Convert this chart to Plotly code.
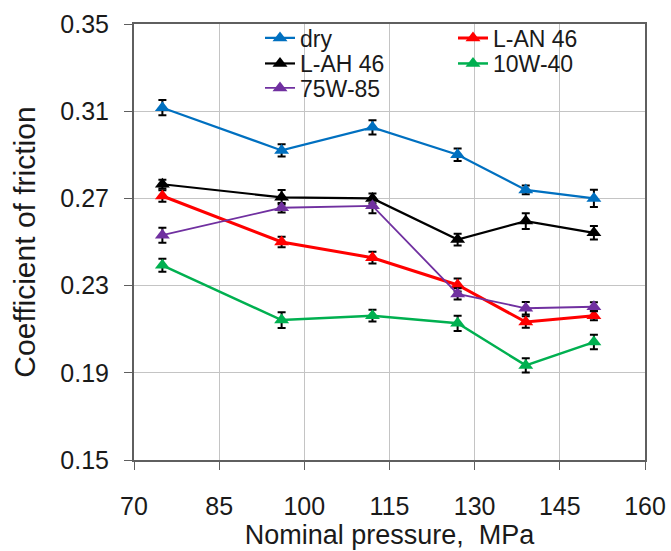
import plotly.graph_objects as go

# ---- data ----
pressure = [75, 96, 112, 127, 139, 151]

dry = [0.3116, 0.2920, 0.3026, 0.2900, 0.2739, 0.2700]
dry_err = [0.0035, 0.0028, 0.0033, 0.0029, 0.0020, 0.0040]

l_an46 = [0.2711, 0.2500, 0.2428, 0.2303, 0.2133, 0.2162]
l_an46_err = [0.0026, 0.0024, 0.0027, 0.0030, 0.0026, 0.0021]

l_ah46 = [0.2765, 0.2705, 0.2700, 0.2511, 0.2596, 0.2542]
l_ah46_err = [0.0020, 0.0033, 0.0022, 0.0027, 0.0036, 0.0031]

w10_40 = [0.2393, 0.2142, 0.2162, 0.2127, 0.1934, 0.2041]
w10_40_err = [0.0030, 0.0036, 0.0027, 0.0035, 0.0033, 0.0033]

w75_85 = [0.2531, 0.2657, 0.2666, 0.2262, 0.2196, 0.2203]
w75_85_err = [0.0034, 0.0022, 0.0034, 0.0026, 0.0029, 0.0021]

x_ticks = [70, 85, 100, 115, 130, 145, 160]
y_ticks = [0.15, 0.19, 0.23, 0.27, 0.31, 0.35]

series = [
    ("dry", dry, dry_err, "#0070C0", 2.2, "legend"),
    ("L-AN 46", l_an46, l_an46_err, "#FF0000", 3.0, "legend4"),
    ("L-AH 46", l_ah46, l_ah46_err, "#000000", 2.2, "legend2"),
    ("10W-40", w10_40, w10_40_err, "#00B050", 2.5, "legend5"),
    ("75W-85", w75_85, w75_85_err, "#7030A0", 1.8, "legend3"),
]

FONT = "Liberation Sans, Arial, sans-serif"
TXT = "#1a1a1a"

fig = go.Figure()
for name, ys, errs, color, lw, lg in series:
    fig.add_trace(go.Scatter(
        x=pressure, y=ys, name=name, mode="lines+markers",
        line=dict(color=color, width=lw),
        marker=dict(symbol="triangle-up", size=13, color=color),
        error_y=dict(type="data", array=errs, visible=True,
                     color="#000000", thickness=2, width=4),
        legend=lg, showlegend=True,
    ))

# plot area in px: x 134..645, y 24..460
W, H = 671, 551
L, R, T, B = 134, 26, 24, 91
pw, ph = W - L - R, H - T - B

def px_x(p):
    return (p - L) / pw

def px_y(p):
    return (H - B - p) / ph

legend_common = dict(
    font=dict(family=FONT, size=23, color=TXT),
    bgcolor="rgba(0,0,0,0)", borderwidth=0,
    xanchor="left", yanchor="middle",
    itemclick=False, itemdoubleclick=False,
    visible=True,
)
col1, col2 = px_x(260), px_x(453)
r1, r2, r3 = px_y(38), px_y(63.5), px_y(88)

layout_legends = dict(
    legend=dict(x=col1, y=r1, **legend_common),
    legend2=dict(x=col1, y=r2, **legend_common),
    legend3=dict(x=col1, y=r3, **legend_common),
    legend4=dict(x=col2, y=r1, **legend_common),
    legend5=dict(x=col2, y=r2, **legend_common),
)

fig.update_layout(
    width=W, height=H,
    margin=dict(l=L, r=R, t=T, b=B, autoexpand=False),
    paper_bgcolor="white", plot_bgcolor="white",
    font=dict(family=FONT, size=25, color=TXT),
    showlegend=True,
    **layout_legends,
    shapes=[dict(
        type="rect", xref="paper", yref="paper",
        x0=px_x(255), x1=px_x(642), y0=px_y(99), y1=px_y(27),
        fillcolor="white", line=dict(width=0), layer="between",
    )],
)

fig.update_xaxes(
    range=[70, 160], tickvals=x_ticks, ticktext=[str(v) for v in x_ticks],
    showgrid=True, gridcolor="#c4c4c4", gridwidth=1,
    showline=True, linecolor="#5f5f5f", linewidth=2, mirror=True,
    ticks="outside", ticklen=8, tickcolor="#5f5f5f", tickwidth=1,
    ticklabelstandoff=15, automargin=True,
    tickfont=dict(family=FONT, size=25, color=TXT),
    title=dict(text="Nominal pressure,  MPa", standoff=6,
               font=dict(family=FONT, size=27, color=TXT)),
    zeroline=False,
)
fig.update_yaxes(
    range=[0.15, 0.35], tickvals=y_ticks, ticktext=[f"{v:.2f}" for v in y_ticks],
    showgrid=True, gridcolor="#c4c4c4", gridwidth=1,
    showline=True, linecolor="#5f5f5f", linewidth=2, mirror=True,
    ticks="outside", ticklen=8, tickcolor="#5f5f5f", tickwidth=1,
    ticklabelstandoff=10, automargin=True,
    tickfont=dict(family=FONT, size=25, color=TXT),
    title=dict(text="Coefficient of friction", standoff=16,
               font=dict(family=FONT, size=30, color=TXT)),
    zeroline=False,
)

fig.write_html("out.html")
